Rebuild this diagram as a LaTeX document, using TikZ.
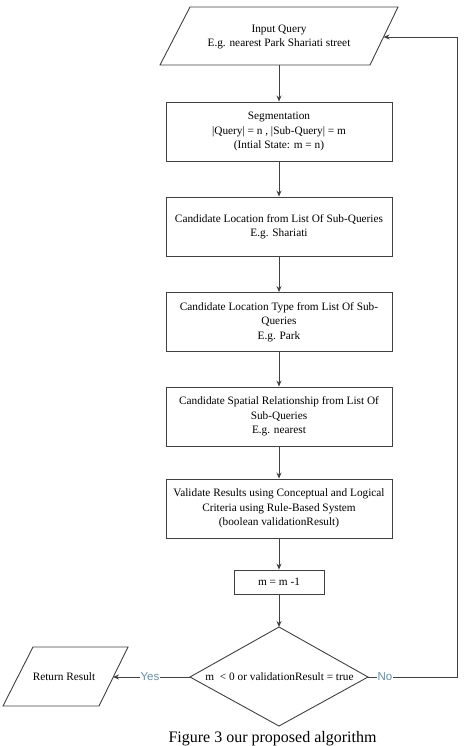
\documentclass[tikz,border=0pt]{standalone}
\usepackage{fontspec}
\setmainfont{Liberation Serif}
\newfontfamily\labfont{Liberation Sans}
\usetikzlibrary{arrows.meta}
\definecolor{linec}{HTML}{404040}
\definecolor{labc}{HTML}{6A8CA3}
\tikzset{
  boxtext/.style={align=center, font=\fontsize{11.3}{14.5}\selectfont, inner sep=0pt},
  procbox/.style={draw=linec, line width=0.9pt, minimum width=226pt, minimum height=59pt, align=center, font=\fontsize{11.3}{14.5}\selectfont, inner sep=2pt},
  shapeline/.style={draw=linec, line width=0.9pt},
  conn/.style={draw=linec, line width=0.9pt, -{Stealth[length=6pt,width=5pt]}},
  yn/.style={font=\labfont\fontsize{11.5}{13}\selectfont, text=labc, inner sep=1pt, fill=white}
}
\begin{document}
\begin{tikzpicture}[x=1pt,y=-1pt]
\useasboundingbox (0,0) rectangle (464,746);
% input parallelogram
\coordinate (i1) at (190,7);
\coordinate (i2) at (398,7);
\coordinate (i3) at (370,65);
\coordinate (i4) at (160,65);
\draw[shapeline] (i1) -- (i2) -- (i3) -- (i4) -- cycle;
\node[boxtext] (inq) at (279,37) {Input Query\\E.g. nearest Park Shariati street};
\coordinate (inbot) at (279,65);
\coordinate (inright) at (383.5,37);
% process boxes
\node[procbox] (seg) at (279,131.5) {Segmentation\\|Query| = n , |Sub-Query| = m\\(Intial State: m = n)};
\node[procbox] (loc) at (279,226.5) {Candidate Location from List Of Sub-Queries\\E.g. Shariati};
\node[procbox] (typ) at (279,322) {Candidate Location Type from List Of Sub-\\Queries\\E.g. Park};
\node[procbox] (rel) at (279,416.5) {Candidate Spatial Relationship from List Of\\Sub-Queries\\E.g. nearest};
\node[procbox] (val) at (279,508.5) {Validate Results using Conceptual and Logical\\Criteria using Rule-Based System\\(boolean validationResult)};
\node[procbox, minimum width=90pt, minimum height=24pt] (dec) at (279,582) {m = m -1};
% diamond
\coordinate (dt) at (279,627);
\coordinate (dr) at (368,677);
\coordinate (db) at (279,726);
\coordinate (dl) at (190,677);
\draw[shapeline] (dt) -- (dr) -- (db) -- (dl) -- cycle;
\node[boxtext] (cond) at (279.5,677) {m \ < 0 or validationResult = true};
% return parallelogram
\coordinate (r1) at (33,647);
\coordinate (r2) at (128,647);
\coordinate (r3) at (99,706);
\coordinate (r4) at (3,706);
\draw[shapeline] (r1) -- (r2) -- (r3) -- (r4) -- cycle;
\node[boxtext] (ret) at (64,677) {Return Result};
\coordinate (rright) at (113,677);
% feedback corner
\coordinate (fb1) at (457,677);
\coordinate (fb2) at (457,37);
% connectors
\draw[conn] (inbot) -- (seg.north);
\draw[conn] (seg) -- (loc);
\draw[conn] (loc) -- (typ);
\draw[conn] (typ) -- (rel);
\draw[conn] (rel) -- (val);
\draw[conn] (val) -- (dec);
\draw[conn] (dec) -- (dt);
\draw[conn] (dl) -- node[yn, pos=0.52] (yes) {Yes} (rright);
\draw[conn] (dr) -- node[yn, pos=0.19] (no) {No} (fb1) -- (fb2) -- (inright);
% caption
\node[anchor=base, font=\fontsize{16}{18}\selectfont, inner sep=0pt] (cap) at (272.5,742) {Figure 3 our proposed algorithm};
\end{tikzpicture}
\end{document}
